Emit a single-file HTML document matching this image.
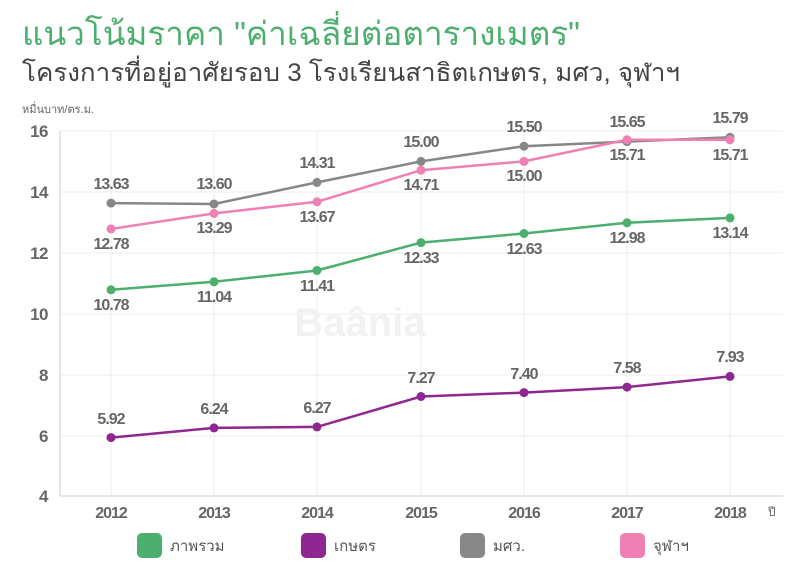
<!DOCTYPE html>
<html><head><meta charset="utf-8"><style>
body{margin:0;background:#fff;width:800px;height:573px;overflow:hidden;font-family:"Liberation Sans","Noto Sans CJK SC",sans-serif}
</style></head><body>
<svg width="800" height="573" viewBox="0 0 800 573" xmlns="http://www.w3.org/2000/svg" font-family="Liberation Sans, Noto Sans CJK SC, sans-serif">
<text x="22" y="45" font-size="33" fill="#4caf6e" textLength="558" lengthAdjust="spacingAndGlyphs">แนวโน้มราคา "ค่าเฉลี่ยต่อตารางเมตร"</text>
<text x="22" y="81" font-size="25" fill="#444" textLength="658" lengthAdjust="spacingAndGlyphs">โครงการที่อยู่อาศัยรอบ 3 โรงเรียนสาธิตเกษตร, มศว, จุฬาฯ</text>
<text x="22" y="113" font-size="11" fill="#666">หมื่นบาท/ตร.ม.</text>
<g stroke="#eee" stroke-width="1">
<line x1="60" y1="131" x2="783" y2="131"/><line x1="60" y1="192" x2="783" y2="192"/><line x1="60" y1="253" x2="783" y2="253"/><line x1="60" y1="314" x2="783" y2="314"/><line x1="60" y1="375" x2="783" y2="375"/><line x1="60" y1="436" x2="783" y2="436"/>
<line x1="111" y1="131" x2="111" y2="496"/><line x1="214" y1="131" x2="214" y2="496"/><line x1="317" y1="131" x2="317" y2="496"/><line x1="421" y1="131" x2="421" y2="496"/><line x1="524" y1="131" x2="524" y2="496"/><line x1="627" y1="131" x2="627" y2="496"/><line x1="730" y1="131" x2="730" y2="496"/>
</g>
<line x1="60" y1="131" x2="60" y2="496" stroke="#ccc"/>
<line x1="60" y1="496" x2="783" y2="496" stroke="#ccc"/>
<text x="360" y="336" font-size="40" font-weight="bold" fill="#f2f2f2" text-anchor="middle">Baânia</text>
<g font-size="17" font-weight="bold" fill="#666" text-anchor="end" letter-spacing="-0.5">
<text x="48" y="137">16</text><text x="48" y="198">14</text><text x="48" y="259">12</text><text x="48" y="320">10</text><text x="48" y="381">8</text><text x="48" y="442">6</text><text x="48" y="502">4</text>
</g>
<g font-size="16" font-weight="bold" fill="#666" text-anchor="middle" letter-spacing="-1">
<text x="111" y="518">2012</text><text x="214" y="518">2013</text><text x="317" y="518">2014</text><text x="421" y="518">2015</text><text x="524" y="518">2016</text><text x="627" y="518">2017</text><text x="730" y="518">2018</text>
</g>
<text x="768" y="516" font-size="12" fill="#666">ปี</text>
<g fill="none" stroke-width="2.5">
<polyline stroke="#878787" points="111,203.1 214,204 317,182.4 421,161.4 524,146.2 627,141.6 730,137.3"/>
<polyline stroke="#ef80b3" points="111,228.9 214,213.4 317,201.8 421,170.2 524,161.4 627,139.8 730,139.8"/>
<polyline stroke="#4caf6e" points="111,289.8 214,281.8 317,270.5 421,242.6 524,233.5 627,222.8 730,217.9"/>
<polyline stroke="#8e278f" points="111,437.6 214,427.9 317,426.9 421,396.5 524,392.6 627,387.1 730,376.4"/>
</g>
<g fill="#878787"><circle cx="111" cy="203.1" r="4.5"/><circle cx="214" cy="204" r="4.5"/><circle cx="317" cy="182.4" r="4.5"/><circle cx="421" cy="161.4" r="4.5"/><circle cx="524" cy="146.2" r="4.5"/><circle cx="627" cy="141.6" r="4.5"/><circle cx="730" cy="137.3" r="4.5"/></g>
<g fill="#ef80b3"><circle cx="111" cy="228.9" r="4.5"/><circle cx="214" cy="213.4" r="4.5"/><circle cx="317" cy="201.8" r="4.5"/><circle cx="421" cy="170.2" r="4.5"/><circle cx="524" cy="161.4" r="4.5"/><circle cx="627" cy="139.8" r="4.5"/><circle cx="730" cy="139.8" r="4.5"/></g>
<g fill="#4caf6e"><circle cx="111" cy="289.8" r="4.5"/><circle cx="214" cy="281.8" r="4.5"/><circle cx="317" cy="270.5" r="4.5"/><circle cx="421" cy="242.6" r="4.5"/><circle cx="524" cy="233.5" r="4.5"/><circle cx="627" cy="222.8" r="4.5"/><circle cx="730" cy="217.9" r="4.5"/></g>
<g fill="#8e278f"><circle cx="111" cy="437.6" r="4.5"/><circle cx="214" cy="427.9" r="4.5"/><circle cx="317" cy="426.9" r="4.5"/><circle cx="421" cy="396.5" r="4.5"/><circle cx="524" cy="392.6" r="4.5"/><circle cx="627" cy="387.1" r="4.5"/><circle cx="730" cy="376.4" r="4.5"/></g>
<g font-size="16" font-weight="bold" fill="#666" text-anchor="middle" letter-spacing="-1">
<text x="111" y="189">13.63</text><text x="214" y="189">13.60</text><text x="317" y="168">14.31</text><text x="421" y="147">15.00</text><text x="524" y="132">15.50</text><text x="627" y="127">15.65</text><text x="730" y="123">15.79</text>
<text x="111" y="249">12.78</text><text x="214" y="233">13.29</text><text x="317" y="222">13.67</text><text x="421" y="190">14.71</text><text x="524" y="181">15.00</text><text x="627" y="160">15.71</text><text x="730" y="160">15.71</text>
<text x="111" y="310">10.78</text><text x="214" y="302">11.04</text><text x="317" y="291">11.41</text><text x="421" y="263">12.33</text><text x="524" y="254">12.63</text><text x="627" y="243">12.98</text><text x="730" y="238">13.14</text>
<text x="111" y="424">5.92</text><text x="214" y="414">6.24</text><text x="317" y="413">6.27</text><text x="421" y="383">7.27</text><text x="524" y="379">7.40</text><text x="627" y="373">7.58</text><text x="730" y="362">7.93</text>
</g>
<g font-size="15" fill="#555">
<rect x="137" y="533" width="25" height="25" rx="5" fill="#4caf6e"/><text x="170" y="551">ภาพรวม</text>
<rect x="301" y="533" width="25" height="25" rx="5" fill="#8e278f"/><text x="334" y="551">เกษตร</text>
<rect x="460" y="533" width="25" height="25" rx="5" fill="#878787"/><text x="493" y="551">มศว.</text>
<rect x="620" y="533" width="25" height="25" rx="5" fill="#ef80b3"/><text x="653" y="551">จุฬาฯ</text>
</g>
</svg>
</body></html>
